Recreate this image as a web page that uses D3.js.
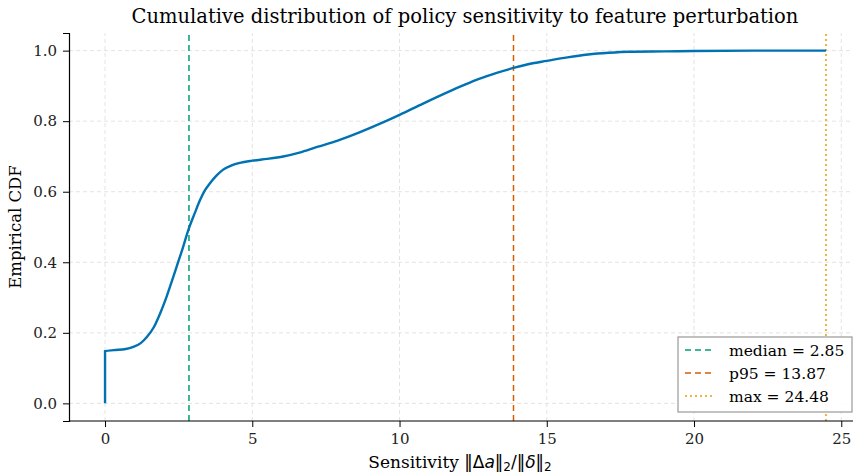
<!DOCTYPE html>
<html>
<head>
<meta charset="utf-8">
<script src="https://cdn.jsdelivr.net/npm/d3@7"></script>
<style>
  body { margin: 0; background: #fff; }
  svg { display: block; font-family: "DejaVu Serif", serif; }
  .tick text { font-size: 15px; fill: #222; }
  .grid line { stroke: #e3e3e3; stroke-dasharray: 4,3; }
</style>
</head>
<body>
<div id="chart"></div>
<script>
// sensitivity values and the empirical CDF
var sens = [0, 0, 0.3, 0.7, 0.96, 1.2, 1.42, 1.65, 1.87, 2.1, 2.32, 2.44, 2.6, 2.85, 3.05, 3.23, 3.4, 3.57, 3.8, 4.0, 4.3, 4.58, 5.0, 5.5, 6.05, 6.6, 7.2, 7.9, 8.66, 9.34, 10.0, 10.8, 11.6, 12.2, 12.7, 13.3, 13.87, 14.4, 15.0, 15.7, 16.4, 17.1, 17.8, 19.0, 20.0, 22.0, 24.48];
var cdf  = [0, 0.148, 0.151, 0.154, 0.160, 0.170, 0.188, 0.215, 0.255, 0.305, 0.359, 0.390, 0.430, 0.497, 0.540, 0.577, 0.605, 0.625, 0.647, 0.662, 0.675, 0.682, 0.688, 0.693, 0.700, 0.711, 0.727, 0.745, 0.769, 0.793, 0.818, 0.850, 0.881, 0.903, 0.920, 0.937, 0.951, 0.962, 0.971, 0.981, 0.989, 0.994, 0.997, 0.998, 0.999, 1.0, 1.0];

var refNames  = ["median", "p95", "max"];
var refValues = [2.85, 13.87, 24.48];
var refColors = ["#009E73", "#D55E00", "#E69F00"];
var refDash   = ["6,4", "6,4", "2,3"];

var xTicks = [0, 5, 10, 15, 20, 25];
var yTicks = [0, 0.2, 0.4, 0.6, 0.8, 1.0];

var width = 853, height = 475;
var margin = {left: 69, right: -9, top: 33, bottom: 54};

var svg = d3.select("#chart").append("svg")
    .attr("width", width)
    .attr("height", height);

var x = d3.scaleLinear().domain([-1.224, 25.704]).range([margin.left, width - margin.right]);
var y = d3.scaleLinear().domain([-0.05, 1.05]).range([height - margin.bottom, margin.top]);

// grid
var grid = svg.append("g").attr("class", "grid");
grid.selectAll("line.gx").data(xTicks).enter().append("line")
    .attr("x1", function(d) { return x(d); }).attr("x2", function(d) { return x(d); })
    .attr("y1", y.range()[0]).attr("y2", y.range()[1]);
grid.selectAll("line.gy").data(yTicks).enter().append("line")
    .attr("y1", function(d) { return y(d); }).attr("y2", function(d) { return y(d); })
    .attr("x1", x.range()[0]).attr("x2", x.range()[1]);

// reference lines
refValues.forEach(function(v, i) {
  svg.append("line")
    .attr("x1", x(v)).attr("x2", x(v))
    .attr("y1", y.range()[0]).attr("y2", y.range()[1])
    .attr("stroke", refColors[i])
    .attr("stroke-width", 1.5)
    .attr("stroke-dasharray", refDash[i]);
});

// cdf curve
var pts = sens.map(function(s, i) { return [s, cdf[i]]; });
var line = d3.line()
    .x(function(d) { return x(d[0]); })
    .y(function(d) { return y(d[1]); })
    .curve(d3.curveMonotoneX);
svg.append("path")
    .datum(pts)
    .attr("fill", "none")
    .attr("stroke", "#0072B2")
    .attr("stroke-width", 2.4)
    .attr("d", line);

// axes
var xAxis = svg.append("g")
    .attr("transform", "translate(0," + (height - margin.bottom) + ")")
    .call(d3.axisBottom(x).tickValues(xTicks).tickFormat(d3.format("d")).tickSize(6).tickPadding(6));
var yAxis = svg.append("g")
    .attr("transform", "translate(" + margin.left + ",0)")
    .call(d3.axisLeft(y).tickValues(yTicks).tickFormat(d3.format(".1f")).tickSize(6).tickPadding(6));
[xAxis, yAxis].forEach(function(a) {
  a.select(".domain").attr("stroke", "#000").attr("stroke-width", 1.2);
  a.selectAll(".tick line").attr("stroke", "#000").attr("stroke-width", 1);
  a.selectAll(".tick text").style("font-family", "DejaVu Serif");
});
xAxis.select(".domain").attr("d", "M" + margin.left + ",0H" + width);

// title and labels
svg.append("text")
    .attr("x", 465).attr("y", 23)
    .attr("text-anchor", "middle")
    .style("font-size", "19.5px")
    .text("Cumulative distribution of policy sensitivity to feature perturbation");

svg.append("text")
    .attr("transform", "translate(21,227) rotate(-90)")
    .attr("text-anchor", "middle")
    .style("font-size", "16.5px")
    .text("Empirical CDF");

var xl = svg.append("text")
    .attr("x", 460).attr("y", 468)
    .attr("text-anchor", "middle")
    .style("font-size", "17px");
xl.append("tspan").text("Sensitivity  ");
var m = xl.append("tspan").style("font-family", "DejaVu Sans");
m.append("tspan").text("\u2016\u0394");
m.append("tspan").style("font-style", "italic").text("a");
m.append("tspan").text("\u2016");
m.append("tspan").attr("dy", 3).style("font-size", "12px").text("2");
m.append("tspan").attr("dy", -3).text("/\u2016");
m.append("tspan").style("font-style", "italic").text("\u03b4");
m.append("tspan").text("\u2016");
m.append("tspan").attr("dy", 3).style("font-size", "12px").text("2");

// legend
var lg = svg.append("g").attr("transform", "translate(678,337)");
lg.append("rect")
    .attr("width", 174).attr("height", 75)
    .attr("fill", "#fff").attr("fill-opacity", 0.9)
    .attr("stroke", "#999").attr("stroke-width", 1.2);
refNames.forEach(function(n, i) {
  var yy = 13 + i * 23;
  lg.append("line")
    .attr("x1", 7).attr("x2", 37).attr("y1", yy).attr("y2", yy)
    .attr("stroke", refColors[i]).attr("stroke-width", 1.5)
    .attr("stroke-dasharray", refDash[i]);
  lg.append("text")
    .attr("x", 51).attr("y", yy + 6)
    .style("font-size", "15.5px")
    .text(n + " = " + refValues[i].toFixed(2));
});
</script>
</body>
</html>
